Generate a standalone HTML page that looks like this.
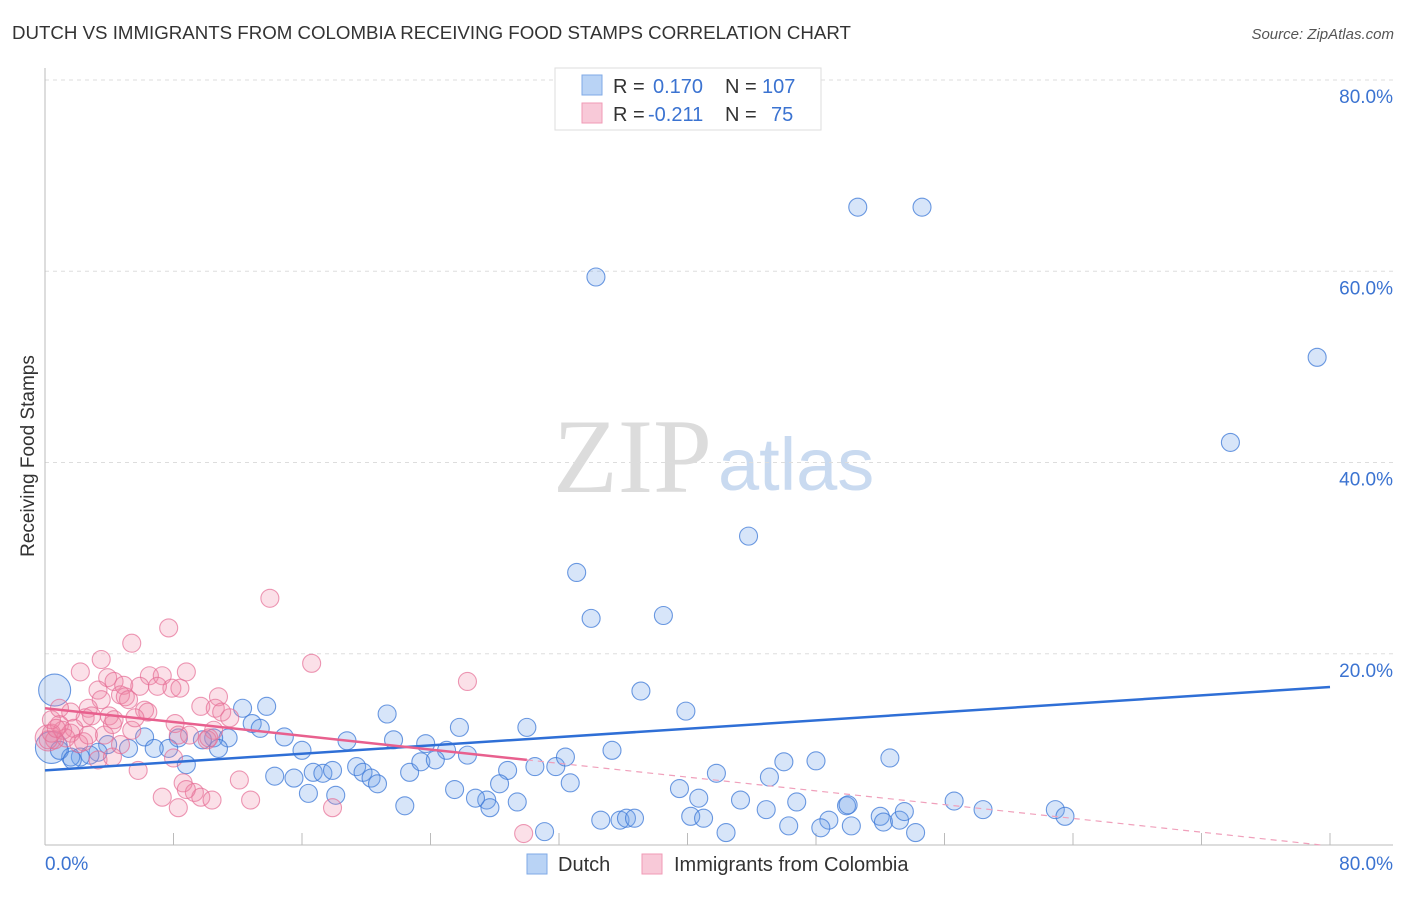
<!DOCTYPE html>
<html><head><meta charset="utf-8"><style>
body{margin:0;background:#fff;font-family:"Liberation Sans",sans-serif;}
</style></head><body>
<svg id="chart" width="1406" height="892" xmlns="http://www.w3.org/2000/svg" font-family="Liberation Sans, sans-serif">
<text x="12" y="39" font-size="18.7" fill="#333">DUTCH VS IMMIGRANTS FROM COLOMBIA RECEIVING FOOD STAMPS CORRELATION CHART</text>
<text x="1394" y="39" font-size="15" fill="#555" font-style="italic" text-anchor="end">Source: ZipAtlas.com</text>
<text x="553" y="492" font-size="106" font-family="Liberation Serif, serif" fill="#dcdcdc">ZIP</text>
<text x="718" y="490" font-size="74" fill="#c9daf0">atlas</text>
<text transform="translate(34,456) rotate(-90)" font-size="19" fill="#333" text-anchor="middle">Receiving Food Stamps</text>
<g id="grid"></g><g id="marks"></g>
<g>
<rect x="555" y="68" width="266" height="62" fill="#fff" stroke="#ddd"/>
<rect x="582" y="75" width="20" height="20" fill="#b9d3f5" stroke="#7fa9e6"/>
<rect x="582" y="103" width="20" height="20" fill="#f8c9d8" stroke="#f09ab6"/>
<text x="613" y="93" font-size="20" fill="#333">R =</text><text x="653" y="93" font-size="20" fill="#3b73d1">0.170</text>
<text x="725" y="93" font-size="20" fill="#333">N =</text><text x="762" y="93" font-size="20" fill="#3b73d1">107</text>
<text x="613" y="121" font-size="20" fill="#333">R =</text><text x="648" y="121" font-size="20" fill="#3b73d1">-0.211</text>
<text x="725" y="121" font-size="20" fill="#333">N =</text><text x="771" y="121" font-size="20" fill="#3b73d1">75</text>
</g>
<g>
<rect x="527" y="854" width="20" height="20" fill="#b9d3f5" stroke="#7fa9e6"/>
<text x="558" y="871" font-size="20" fill="#333">Dutch</text>
<rect x="642" y="854" width="20" height="20" fill="#f8c9d8" stroke="#f09ab6"/>
<text x="674" y="871" font-size="20" fill="#333">Immigrants from Colombia</text>
</g>
</svg>
<script>
const yTicks=[20,40,60,80];
const yTickLabels=["20.0%","40.0%","60.0%","80.0%"];
const xTicks=[0,8,16,24,32,40,48,56,64,72,80];
const blueX=[34.3,50.6,54.6,79.2,73.8,43.8,33.1,34.0,38.5,37.1,39.9,21.3,25.8,30.0,12.3,13.8,12.9,13.4,11.4,14.9,10.5,9.8,8.3,6.2,7.7,6.8,5.2,3.9,3.3,2.8,2.2,1.6,0.9,1.7,10.8,16.0,18.8,21.7,23.7,25.0,26.3,8.8,14.3,15.5,16.7,17.3,17.9,19.4,19.8,20.3,20.7,22.7,23.4,24.3,28.8,30.5,31.8,32.4,35.3,41.8,45.1,46.0,48.0,52.6,32.7,28.3,27.5,27.7,25.5,26.8,29.4,22.4,16.4,18.1,39.5,40.7,43.3,44.9,46.8,49.9,56.6,58.4,62.9,63.5,34.6,35.8,36.2,36.7,40.2,41.0,48.8,50.0,52.0,52.2,53.2,53.5,31.1,42.4,46.3,48.3,50.2,54.2];
const blueY=[59.4,66.7,66.7,51.0,42.1,32.3,28.5,23.7,24.0,16.1,14.0,13.7,12.3,12.3,14.3,14.5,12.7,12.2,11.2,11.3,11.2,11.0,11.2,11.3,10.1,10.1,10.1,10.5,9.7,9.4,9.2,9.2,9.9,8.9,10.1,9.9,10.9,11.0,10.6,9.9,9.4,8.4,7.2,7.0,7.6,7.5,7.8,8.2,7.6,7.0,6.4,7.6,8.7,8.9,7.8,8.2,8.2,9.2,9.9,7.5,7.1,8.7,8.8,9.1,6.5,6.4,4.7,3.9,5.8,4.9,4.5,4.1,5.4,5.2,5.9,4.9,4.7,3.7,4.5,4.1,4.6,3.7,3.7,3.0,2.6,2.6,2.8,2.8,3.0,2.8,2.6,4.2,3.0,2.4,2.6,3.5,1.4,1.3,2.0,1.8,2.0,1.3];
const pinkX=[14.0,7.7,5.4,3.5,2.2,8.8,6.5,7.3,3.9,4.3,4.9,3.3,5.9,7.9,8.4,7.0,3.5,4.7,5.0,5.2,10.8,9.7,10.6,6.2,6.4,2.7,2.5,1.6,2.9,4.0,0.9,1.8,1.1,1.3,1.6,0.6,0.2,0.4,2.4,2.1,3.7,4.2,4.3,5.4,8.1,10.5,10.1,3.3,4.2,5.8,8.0,11.0,11.5,8.3,9.0,10.2,12.1,8.6,9.3,9.7,8.8,7.3,8.3,10.4,12.8,17.9,26.3,16.6,29.8,0.4,0.9,5.6,4.7,2.7,0.7];
const pinkY=[25.8,22.7,21.1,19.4,18.1,18.1,17.7,17.7,17.5,17.1,16.7,16.2,16.6,16.4,16.4,16.6,15.2,15.7,15.5,15.2,15.5,14.5,14.3,14.1,13.9,14.3,13.3,13.9,13.5,13.5,12.6,12.2,12.0,11.2,11.7,11.0,11.0,11.7,10.8,10.6,11.5,12.6,13.1,12.0,12.7,12.0,11.0,8.9,9.2,7.8,9.1,13.9,13.3,11.5,11.5,11.2,6.8,6.5,5.5,5.0,5.8,5.0,3.9,4.7,4.7,3.9,17.1,19.0,1.2,13.1,14.3,13.3,10.5,11.5,12.2];
const blueBig=[[0.6,16.2,16],[0.4,10.2,16]];
const pinkBig=[[0.2,11.2,13]];
const blueTrend=[7.8,0.109];
const pinkTrend=[14.3,-0.18];
const pinkSolidEnd=30;

const X0=45,X1=1330,Y0=845,Y80=80;
const sx=v=>X0+v*(X1-X0)/80, sy=v=>Y0-v*(Y0-Y80)/80;
const NS="http://www.w3.org/2000/svg";
const grid=document.getElementById('grid'), marks=document.getElementById('marks');
function mk(tag,attrs,parent){const e=document.createElementNS(NS,tag);for(const k in attrs)e.setAttribute(k,attrs[k]);parent.appendChild(e);return e;}
yTicks.forEach((t,i)=>{
 const l=mk('line',{x1:X0,x2:1393,y1:sy(t),y2:sy(t),stroke:'#ddd','stroke-dasharray':'4,4'},grid);
 
 
 const tx=mk('text',{x:1393,y:sy(t)+23,'font-size':19,fill:'#3b73d1','text-anchor':'end'},grid);
 tx.textContent=yTickLabels[i];
 
 
});
const ax=mk('line',{x1:X0,x2:X0,y1:68,y2:Y0,stroke:'#bbb'},grid);


const bx=mk('line',{x1:X0,x2:1393,y1:Y0,y2:Y0,stroke:'#bbb'},grid);


xTicks.forEach(t=>{const l=mk('line',{x1:sx(t),x2:sx(t),y1:833,y2:Y0,stroke:'#bbb'},grid);
 
 });
const xl0=mk('text',{x:45,y:870,'font-size':19,fill:'#3b73d1'},grid);xl0.textContent='0.0%';


const xl1=mk('text',{x:1393,y:870,'font-size':19,fill:'#3b73d1','text-anchor':'end'},grid);xl1.textContent='80.0%';


function dot(x,y,r,fill,stroke,name){const c=mk('circle',{cx:sx(x),cy:sy(y),r:r,fill:fill,stroke:stroke,'stroke-width':1.1},marks);
 
 }
const bf='rgba(110,160,235,0.28)',bs='rgba(60,120,215,0.75)',pf='rgba(240,130,165,0.25)',ps='rgba(230,110,150,0.7)';
blueBig.forEach(p=>dot(p[0],p[1],p[2],bf,bs,'dutch-point'));
blueX.forEach((x,i)=>dot(x,blueY[i],9,bf,bs,'dutch-point'));
pinkBig.forEach(p=>dot(p[0],p[1],p[2],pf,ps,'colombia-point'));
pinkX.forEach((x,i)=>dot(x,pinkY[i],9,pf,ps,'colombia-point'));
const bt=mk('line',{x1:sx(0),y1:sy(blueTrend[0]),x2:sx(80),y2:sy(blueTrend[0]+80*blueTrend[1]),stroke:'#2f6fd6','stroke-width':2.5},marks);


const pt=mk('line',{x1:sx(0),y1:sy(pinkTrend[0]),x2:sx(pinkSolidEnd),y2:sy(pinkTrend[0]+pinkSolidEnd*pinkTrend[1]),stroke:'#e8608e','stroke-width':2.5},marks);


const xe=-pinkTrend[0]/pinkTrend[1];
const pd=mk('line',{x1:sx(pinkSolidEnd),y1:sy(pinkTrend[0]+pinkSolidEnd*pinkTrend[1]),x2:sx(Math.min(80,xe)),y2:sy(pinkTrend[0]+Math.min(80,xe)*pinkTrend[1]),stroke:'#f0a0bb','stroke-width':1.2,'stroke-dasharray':'6,5'},marks);


</script>
</body></html>
